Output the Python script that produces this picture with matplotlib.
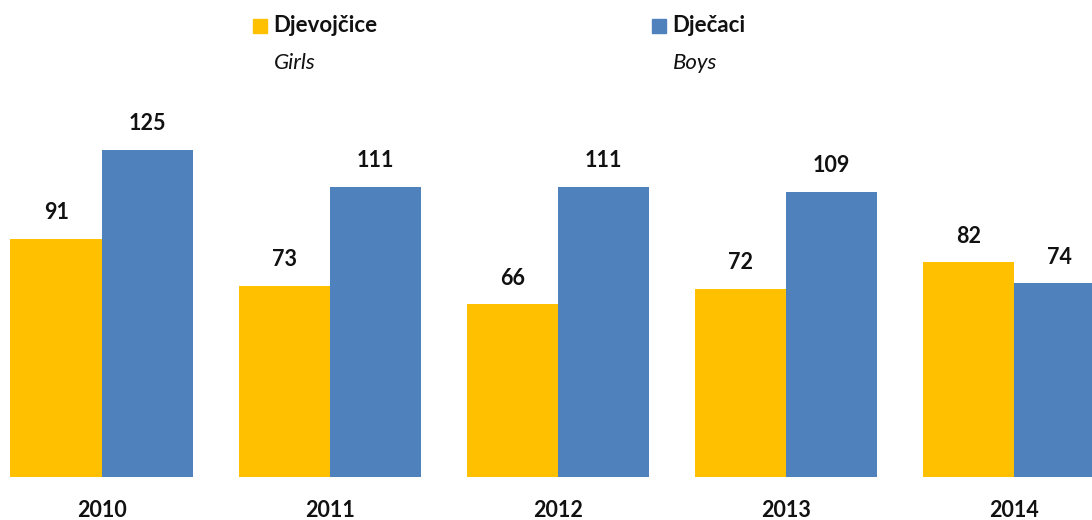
import matplotlib.pyplot as plt
import numpy as np

plt.rcParams['font.family'] = ['Lato', 'DejaVu Sans']

years = ["2010", "2011", "2012", "2013", "2014"]
girls = [91, 73, 66, 72, 82]
boys = [125, 111, 111, 109, 74]

gold = "#FFC000"
blue = "#4F81BD"

fig = plt.figure(figsize=(10.92, 5.2), dpi=100)
ax = fig.add_axes([0, 1 - 477 / 520, 1, 477 / 520])

x = np.arange(len(years))
w = 0.401
ax.bar(x - w / 2, girls, w, color=gold)
ax.bar(x + w / 2, boys, w, color=blue)

for xi, g, b in zip(x, girls, boys):
    ax.text(xi - w / 2, g + 7.5, str(g), ha="center", va="baseline",
            fontsize=15.5, fontweight="bold", color="#111111")
    ax.text(xi + w / 2, b + 7.5, str(b), ha="center", va="baseline",
            fontsize=15.5, fontweight="bold", color="#111111")

ax.set_xlim(-0.447, 4.342)
ax.set_ylim(0, 182.3)
ax.axis("off")

# year labels below the bars
for xi, yr in zip(x, years):
    ax.annotate(yr, (xi, 0), xytext=(0, -29), textcoords="offset points",
                ha="center", va="baseline", fontsize=15.5, fontweight="bold",
                color="#111111", annotation_clip=False)

# legend, drawn by hand
fig.patches.append(plt.Rectangle((253 / 1092, 1 - 33 / 520), 14 / 1092, 14 / 520,
                                 transform=fig.transFigure, color=gold))
fig.patches.append(plt.Rectangle((652 / 1092, 1 - 33 / 520), 14 / 1092, 14 / 520,
                                 transform=fig.transFigure, color=blue))
fig.text(273 / 1092, 1 - 32 / 520, "Djevojčice", fontsize=16, fontweight="bold",
         va="baseline", color="#111111")
fig.text(274 / 1092, 1 - 69 / 520, "Girls", fontsize=16, style="italic",
         va="baseline", color="#111111")
fig.text(672 / 1092, 1 - 32 / 520, "Dječaci", fontsize=16, fontweight="bold",
         va="baseline", color="#111111")
fig.text(673 / 1092, 1 - 69 / 520, "Boys", fontsize=16, style="italic",
         va="baseline", color="#111111")

plt.savefig("out.png", dpi=100)
